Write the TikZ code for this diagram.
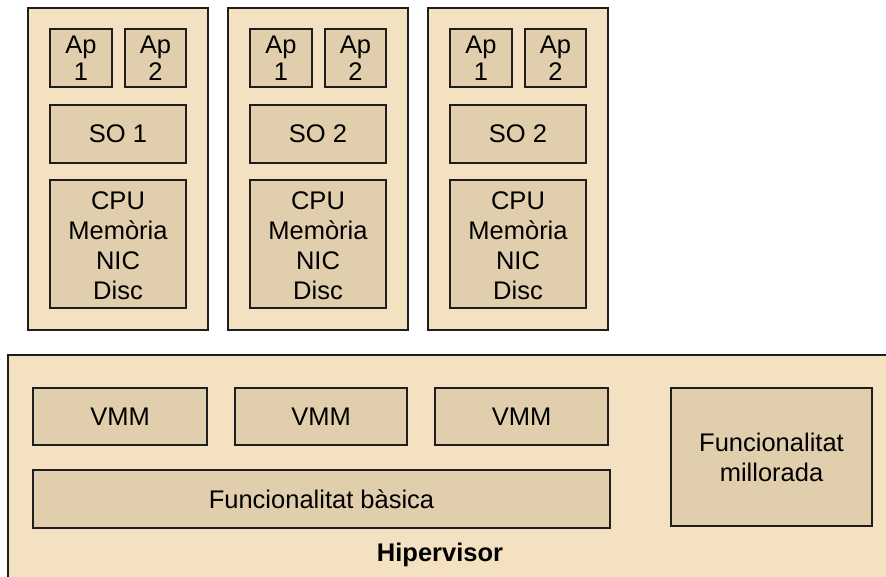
\documentclass[tikz,border=0pt]{standalone}
\usepackage{fontspec}
\setmainfont{Liberation Sans}
\definecolor{outerfill}{HTML}{F3E1C2}
\definecolor{innerfill}{HTML}{E1CEAC}
\definecolor{edge}{HTML}{1E1E1E}
\begin{document}
\begin{tikzpicture}[x=1pt,y=-1pt,
  outerbox/.style={draw=edge,line width=1.6pt,fill=outerfill},
  innerbox/.style={draw=edge,line width=1.6pt,fill=innerfill},
  lbl/.style={font=\fontsize{25.5}{30}\selectfont,align=center,inner sep=0pt}]
\useasboundingbox (0,0) rectangle (886,577);
\clip (0,0) rectangle (886,577);
\fill[white] (0,0) rectangle (886,577);
% hypervisor
\draw[outerbox] (8,355) rectangle (900,600);
\foreach \i/\so in {0/1,1/2,2/2}{
  \begin{scope}[xshift=\i*200]
  \draw[outerbox] (28,8) rectangle (208,330);
  \draw[innerbox] (50,29) rectangle (112,87);
  \node[lbl,font=\fontsize{25.5}{27}\selectfont] (ap1\i) at (81,58) {Ap\\1};
  \draw[innerbox] (125,29) rectangle (186,87);
  \node[lbl,font=\fontsize{25.5}{27}\selectfont] (ap2\i) at (155.5,58) {Ap\\2};
  \draw[innerbox] (50,105) rectangle (186,163);
  \node[lbl] (so\i) at (118,134) {SO \so};
  \draw[innerbox] (50,180) rectangle (186,308);
  \node[lbl] (hw\i) at (118,246) {CPU\\Memòria\\NIC\\Disc};
  \end{scope}
}
\draw[innerbox] (33,388) rectangle (207,445);
\node[lbl] (vmm1) at (120,416.5) {VMM};
\draw[innerbox] (235,388) rectangle (407,445);
\node[lbl] (vmm2) at (321,416.5) {VMM};
\draw[innerbox] (435,388) rectangle (608,445);
\node[lbl] (vmm3) at (521.5,416.5) {VMM};
\draw[innerbox] (33,470) rectangle (610,528);
\node[lbl] (basic) at (321.5,499) {Funcionalitat bàsica};
\draw[innerbox] (671,388) rectangle (872,526);
\node[lbl] (impr) at (771.5,457) {Funcionalitat\\millorada};
\node[lbl,font=\bfseries\fontsize{25.5}{30}\selectfont] (hyp) at (440,555) {Hipervisor};
\end{tikzpicture}
\end{document}
